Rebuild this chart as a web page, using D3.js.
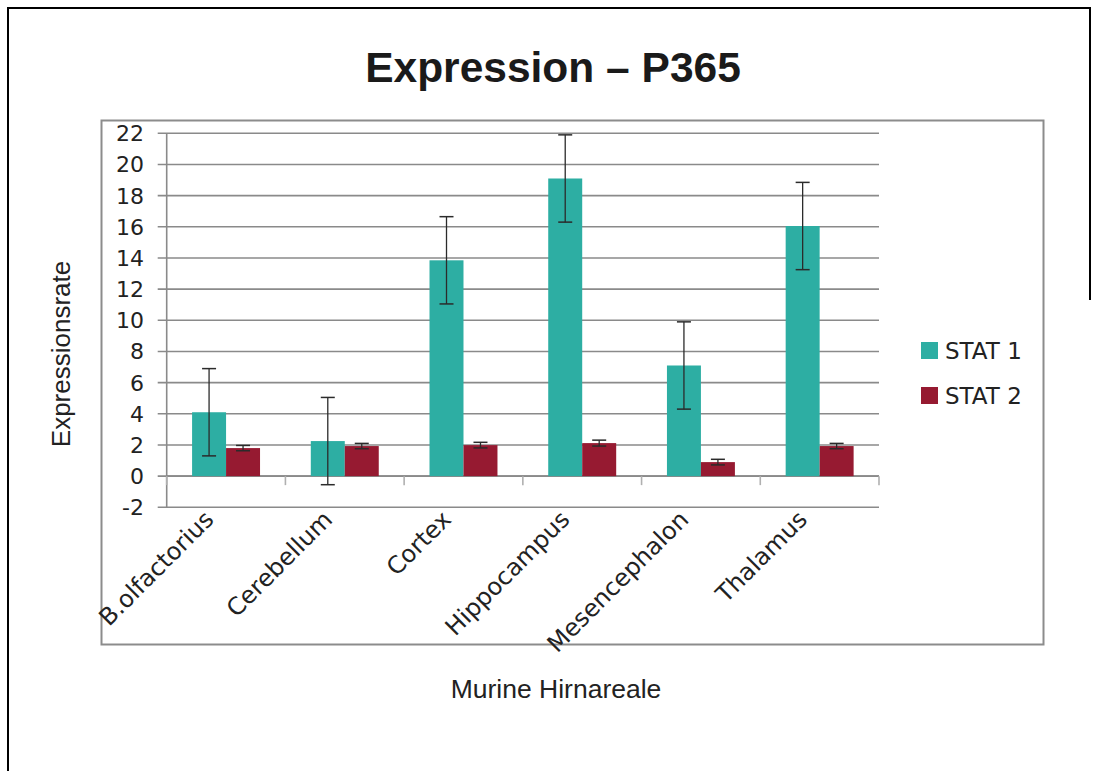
<!DOCTYPE html>
<html>
<head>
<meta charset="utf-8">
<script src="https://cdn.jsdelivr.net/npm/d3@7"></script>
<style>
  body { margin: 0; background: #fff; }
</style>
</head>
<body>
<div id="chart"></div>
<script>
// data
var categories = ["B.olfactorius", "Cerebellum", "Cortex", "Hippocampus", "Mesencephalon", "Thalamus"];
var seriesNames = ["STAT 1", "STAT 2"];
var stat1 = [4.1, 2.25, 13.85, 19.1, 7.1, 16.05];
var stat1Err = [2.8, 2.8, 2.8, 2.8, 2.8, 2.8];
var stat2 = [1.8, 1.93, 1.99, 2.12, 0.9, 1.93];
var stat2Err = [0.17, 0.17, 0.18, 0.19, 0.18, 0.17];
var yTicks = [-2, 0, 2, 4, 6, 8, 10, 12, 14, 16, 18, 20, 22];

//constants
var width = 1097;
var height = 771;
var color_teal = "#2daea3";
var color_red = "#961a31";
var color_grid = "#8a8a8a";
var color_err = "#2b2b2b";
var labelFont = "DejaVu Sans";
var titleFont = "Liberation Sans, Arial, sans-serif";

var plot = { left: 166.7, right: 879, top: 133.3, bottom: 507.3 };

var svg = d3.select("#chart")
  .append("svg")
  .attr("width", width)
  .attr("height", height);

//outer frame (left, top, right part)
svg.append("path")
  .attr("d", "M8,771 L8,8 L1090,8 L1090,300")
  .style("fill", "none")
  .style("stroke", "#000")
  .style("stroke-width", 2);

//inner chart box
svg.append("rect")
  .attr("x", 101.5)
  .attr("y", 120.5)
  .attr("width", 942)
  .attr("height", 524)
  .style("fill", "none")
  .style("stroke", "#8c8c8c")
  .style("stroke-width", 2);

//title
svg.append("text")
  .attr("x", 553)
  .attr("y", 82)
  .attr("text-anchor", "middle")
  .style("font-family", titleFont)
  .style("font-weight", "bold")
  .style("font-size", "42.5px")
  .style("fill", "#1a1a1a")
  .text("Expression \u2013 P365");

var x = d3.scaleBand()
  .domain(categories)
  .range([plot.left, plot.right])
  .paddingInner(0)
  .paddingOuter(0);

var xInner = d3.scaleBand()
  .domain(seriesNames)
  .range([0, x.bandwidth()])
  .paddingInner(0)
  .paddingOuter(0.747);

var y = d3.scaleLinear()
  .domain([-2, 22])
  .range([plot.bottom, plot.top]);

//gridlines
svg.append("g")
  .selectAll("line")
  .data(yTicks)
  .enter()
  .append("line")
  .attr("x1", plot.left - 9)
  .attr("x2", plot.right)
  .attr("y1", d => y(d))
  .attr("y2", d => y(d))
  .style("stroke", color_grid)
  .style("stroke-width", 1.6);

//y axis line
svg.append("line")
  .attr("x1", plot.left)
  .attr("x2", plot.left)
  .attr("y1", plot.top)
  .attr("y2", plot.bottom)
  .style("stroke", color_grid)
  .style("stroke-width", 1.6);

//y tick labels
svg.append("g")
  .selectAll("text")
  .data(yTicks)
  .enter()
  .append("text")
  .attr("x", 144)
  .attr("y", d => y(d))
  .attr("dy", "0.36em")
  .attr("text-anchor", "end")
  .style("font-family", labelFont)
  .style("font-size", "22px")
  .style("fill", "#222")
  .text(d => d);

//x axis at zero with tick marks between categories
var xBounds = categories.map(c => x(c)).concat([plot.right]);
svg.append("line")
  .attr("x1", plot.left)
  .attr("x2", plot.right)
  .attr("y1", y(0))
  .attr("y2", y(0))
  .style("stroke", color_grid)
  .style("stroke-width", 1.6);

svg.append("g")
  .selectAll("line")
  .data(xBounds)
  .enter()
  .append("line")
  .attr("x1", d => d)
  .attr("x2", d => d)
  .attr("y1", y(0))
  .attr("y2", y(0) + 9)
  .style("stroke", "#b0b0b0")
  .style("stroke-width", 1.6);

//bars
var series = [
  { name: seriesNames[0], values: stat1, errs: stat1Err, color: color_teal },
  { name: seriesNames[1], values: stat2, errs: stat2Err, color: color_red }
];

series.forEach(function(s) {
  var g = svg.append("g");
  g.selectAll("rect")
    .data(s.values)
    .enter()
    .append("rect")
    .attr("x", (d, i) => x(categories[i]) + xInner(s.name))
    .attr("width", xInner.bandwidth())
    .attr("y", d => y(Math.max(0, d)))
    .attr("height", d => Math.abs(y(d) - y(0)))
    .style("fill", s.color);
});

//error bars
series.forEach(function(s) {
  var g = svg.append("g");
  s.values.forEach(function(v, i) {
    var cx = x(categories[i]) + xInner(s.name) + xInner.bandwidth() / 2;
    var hi = y(v + s.errs[i]);
    var lo = y(v - s.errs[i]);
    g.append("line")
      .attr("x1", cx).attr("x2", cx)
      .attr("y1", hi).attr("y2", lo)
      .style("stroke", color_err)
      .style("stroke-width", 1.3);
    [hi, lo].forEach(function(yy) {
      g.append("line")
        .attr("x1", cx - 7).attr("x2", cx + 7)
        .attr("y1", yy).attr("y2", yy)
        .style("stroke", color_err)
        .style("stroke-width", 1.5);
    });
  });
});

//x category labels
svg.append("g")
  .selectAll("text")
  .data(categories)
  .enter()
  .append("text")
  .attr("transform", d => "translate(" + (x(d) + x.bandwidth() / 2 - 11) + "," + 521 + ") rotate(-45)")
  .attr("text-anchor", "end")
  .style("font-family", labelFont)
  .style("font-size", "24px")
  .style("fill", "#222")
  .text(d => d);

//axis titles
svg.append("text")
  .attr("transform", "translate(" + 70 + "," + 354 + ") rotate(-90)")
  .attr("text-anchor", "middle")
  .style("font-family", titleFont)
  .style("font-size", "26px")
  .style("fill", "#222")
  .text("Expressionsrate");

svg.append("text")
  .attr("x", 556)
  .attr("y", 698)
  .attr("text-anchor", "middle")
  .style("font-family", titleFont)
  .style("font-size", "26.5px")
  .style("fill", "#222")
  .text("Murine Hirnareale");

//legend
var legend = svg.append("g");
series.forEach(function(s, i) {
  legend.append("rect")
    .attr("x", 921)
    .attr("y", 342 + i * 45)
    .attr("width", 17)
    .attr("height", 17)
    .style("fill", s.color);
  legend.append("text")
    .attr("x", 945)
    .attr("y", 359 + i * 45)
    .style("font-family", labelFont)
    .style("font-size", "23px")
    .style("fill", "#222")
    .text(s.name);
});
</script>
</body>
</html>
